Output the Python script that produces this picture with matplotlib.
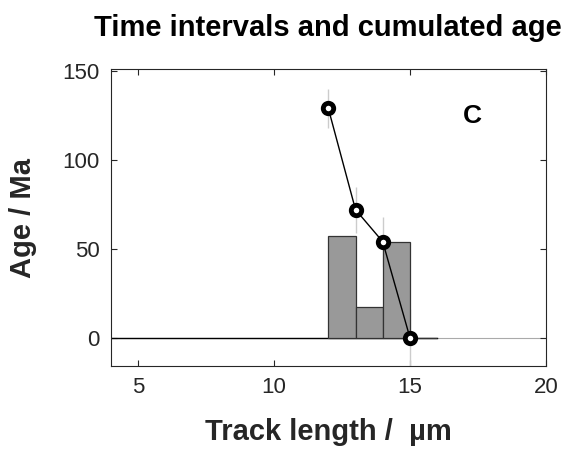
import matplotlib
matplotlib.use('Agg')
import matplotlib.pyplot as plt

# histogram of time intervals
bin_edges = [12, 13, 14, 15, 16]
bin_heights = [57, 17, 54, 0]

# cumulated age points
track_len = [12, 13, 14, 15]
age = [129, 72, 54, 0]
age_err = [11, 13, 14, 16]

plt.rcParams['font.family'] = ['Liberation Sans', 'DejaVu Sans']

fig = plt.figure(figsize=(5.71, 4.53), dpi=100)
ax = fig.add_axes([0.194, 0.192, 0.762, 0.655])

ax.axhline(0, color='#aaaaaa', linewidth=0.8, zorder=1)
ax.plot([4, bin_edges[-1]], [0, 0], color='black', linewidth=1.0, zorder=2)

ax.errorbar(track_len, age, yerr=age_err, fmt='none', ecolor='#cccccc',
            elinewidth=1.0, zorder=2.5)

widths = [b - a for a, b in zip(bin_edges[:-1], bin_edges[1:])]
ax.bar(bin_edges[:-1], bin_heights, width=widths, align='edge',
       color='#999999', edgecolor='#333333', linewidth=0.9, zorder=3)

ax.plot(track_len, age, color='black', linewidth=1.0, marker='o',
        markersize=7.5, markerfacecolor='white', markeredgecolor='black',
        markeredgewidth=3.5, zorder=5)

ax.text(17.3, 125, 'C', fontsize=19, fontweight='bold', ha='center', va='center')

ax.set_xlim(4, 20)
ax.set_ylim(-16, 151)
ax.set_xticks([5, 10, 15, 20])
ax.set_yticks([0, 50, 100, 150])
ax.tick_params(direction='in', top=True, right=True, labelsize=16, length=4,
               width=0.8, colors='#262626', pad=8)
for s in ax.spines.values():
    s.set_color('#262626')
    s.set_linewidth(0.8)

ax.set_xlabel('Track length /  µm', fontsize=21, fontweight='bold', color='#262626', labelpad=14)
ax.set_ylabel('Age / Ma', fontsize=21, fontweight='bold', color='#262626', labelpad=18)
ax.set_title('Time intervals and cumulated age', fontsize=21, fontweight='bold',
             pad=24)

fig.savefig('out.png', dpi=100)
